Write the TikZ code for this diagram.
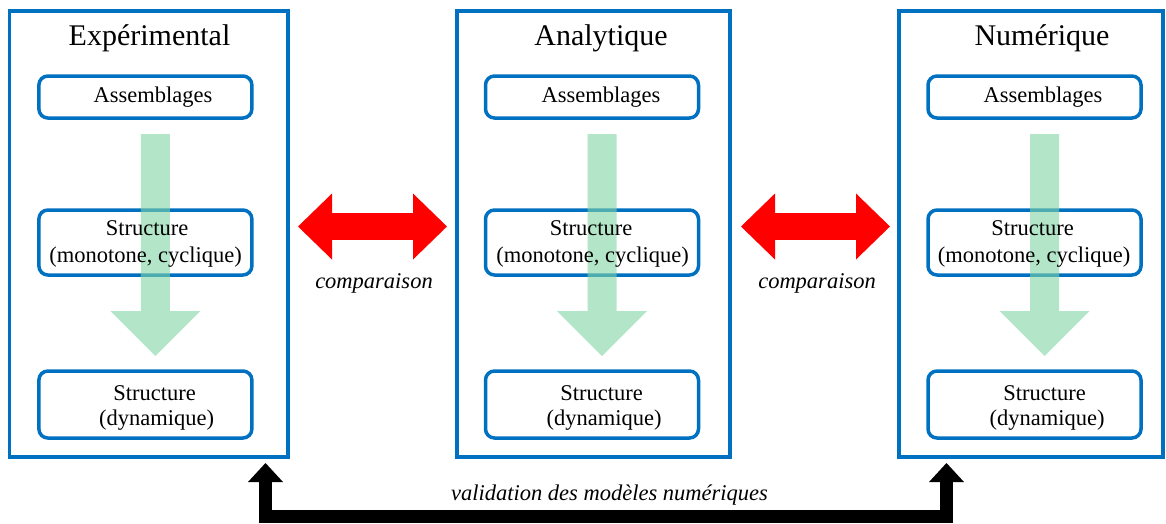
\documentclass[tikz,border=0pt]{standalone}
\usepackage{fontspec}
\setmainfont{Liberation Serif}
\usetikzlibrary{arrows.meta,calc}
\definecolor{boxblue}{HTML}{0070C0}
\definecolor{flowgreen}{RGB}{128,213,165}
\definecolor{cmpred}{HTML}{FF0000}
\begin{document}
\begin{tikzpicture}[x=1pt,y=-1pt,
  outerbox/.style={draw=boxblue, line width=3.2pt, inner sep=0pt, outer sep=0pt},
  innerbox/.style={draw=boxblue, line width=3.5pt, rounded corners=9pt, inner sep=0pt, outer sep=0pt, minimum width=213pt},
  txt/.style={font=\fontsize{22.5}{27}\selectfont, inner sep=0pt, anchor=base},
  ctxt/.style={font=\fontsize{22.5}{27}\selectfont\itshape, inner sep=0pt, anchor=base},
  ttl/.style={font=\fontsize{30}{36}\selectfont, inner sep=0pt, anchor=base},
  flow/.style={fill=flowgreen, fill opacity=0.6},
  cmp/.style={draw=cmpred, line width=27pt, {Triangle[width=66pt,length=34pt,line width=0pt]}-{Triangle[width=66pt,length=34pt,line width=0pt]}},
  valid/.style={draw=black, line width=13pt, line join=miter, {Triangle[width=35pt,length=19pt,line width=0pt]}-{Triangle[width=35pt,length=19pt,line width=0pt]}},
]
\useasboundingbox (0,0) rectangle (1166,523);

% outer frames
\node[outerbox, minimum width=278.5pt, minimum height=446pt] (L) at (148.75,234) {};
\node[outerbox, minimum width=273pt, minimum height=446pt] (M) at (593.5,234) {};
\node[outerbox, minimum width=264pt, minimum height=446pt] (R) at (1031,234) {};

% inner boxes
\foreach \n/\x in {1/145.4, 2/592, 3/1034.5} {
  \node[innerbox, minimum height=42pt] (A\n) at (\x,97) {};
  \node[innerbox, minimum height=65pt] (S\n) at (\x,242.5) {};
  \node[innerbox, minimum height=67pt] (D\n) at (\x,404.5) {};
}

% green flow arrows
\foreach \n in {1,2,3} {
  \coordinate (g\n) at ($(A\n.south)+(10,16)$);
  \fill[flow, shift={(g\n)}] (-14.5,0) -- (14.5,0) -- (14.5,177) -- (45,177) -- (0,222) -- (-45,177) -- (-14.5,177) -- cycle;
}

% titles
\node[ttl] (tL) at (149.5,45) {Expérimental};
\node[ttl] (tM) at (601,45) {Analytique};
\node[ttl] (tR) at (1042,45) {Numérique};

% box texts
\node[txt] (a1) at (153,102) {Assemblages};
\node[txt] (a2) at (601,102) {Assemblages};
\node[txt] (a3) at (1043,102) {Assemblages};

\node[txt] (s1) at (147,235) {Structure};
\node[txt] (m1) at (145.5,262) {(monotone, cyclique)};
\node[txt] (s2) at (591,235) {Structure};
\node[txt] (m2) at (592.5,262) {(monotone, cyclique)};
\node[txt] (s3) at (1032.5,235) {Structure};
\node[txt] (m3) at (1034,262) {(monotone, cyclique)};

\node[txt] (d1) at (154.5,400) {Structure};
\node[txt] (y1) at (156.5,425) {(dynamique)};
\node[txt] (d2) at (601.5,400) {Structure};
\node[txt] (y2) at (604,425) {(dynamique)};
\node[txt] (d3) at (1044.5,400) {Structure};
\node[txt] (y3) at (1047,425) {(dynamique)};

% comparison arrows
\draw[cmp] ($(L.east)+(10,-7.5)$) -- ($(M.west)+(-10,-7.5)$);
\draw[cmp] ($(M.east)+(11,-7.5)$) -- ($(R.west)+(-9,-7.5)$);
\node[ctxt] (c1) at (374,288) {comparaison};
\node[ctxt] (c2) at (817,288) {comparaison};

% validation arrow
\coordinate (vl) at ($(L.south east)+(-22.5,6)$);
\coordinate (vr) at ($(R.south west)+(47.5,6)$);
\draw[valid] (vl) -- ++(0,53.5) -| (vr);
\node[ctxt] (vt) at (609.5,500) {validation des modèles numériques};
\end{tikzpicture}
\end{document}
